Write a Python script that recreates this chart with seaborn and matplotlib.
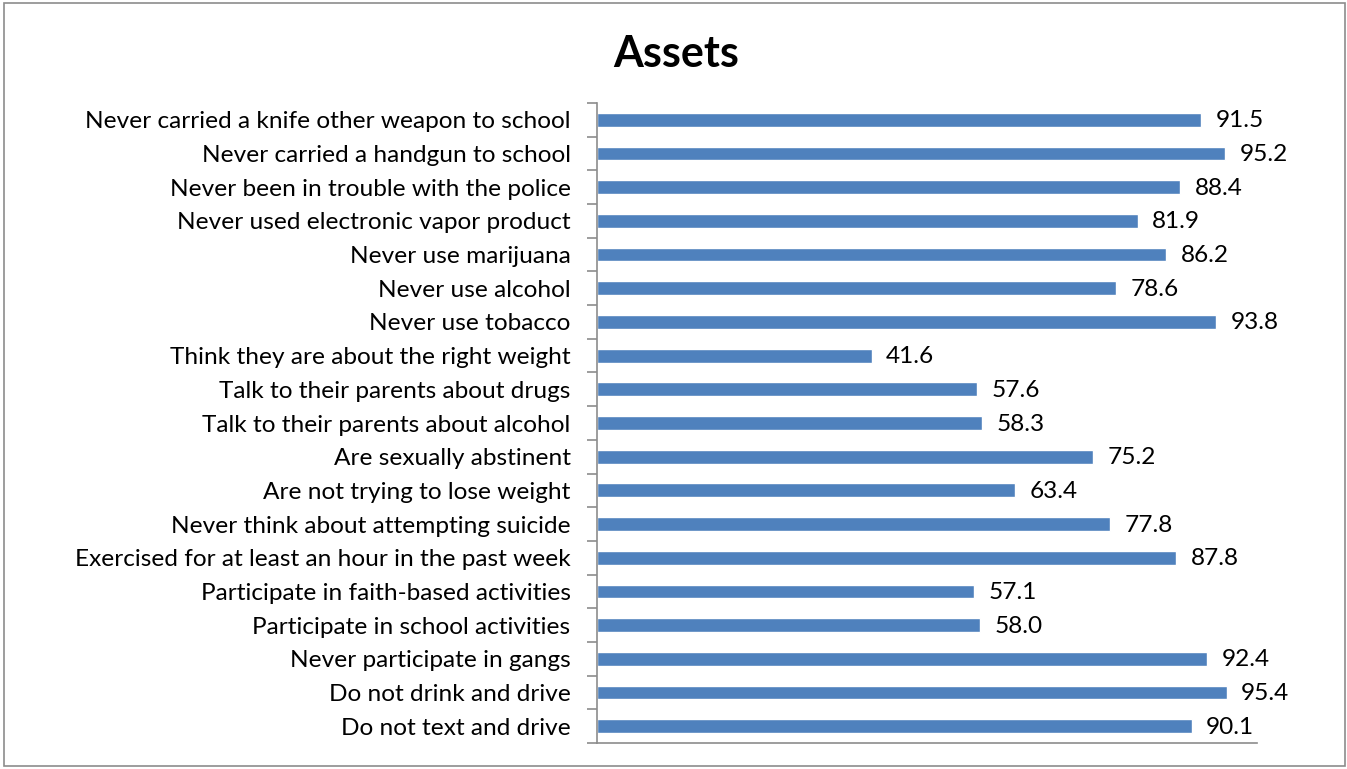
import matplotlib
matplotlib.use("Agg")
import matplotlib.pyplot as plt
import seaborn as sns
import pandas as pd
import numpy as np
from matplotlib.patches import Rectangle

categories = [
    "Never carried a knife other weapon to school",
    "Never carried a handgun to school",
    "Never been in trouble with the police",
    "Never used electronic vapor product",
    "Never use marijuana",
    "Never use alcohol",
    "Never use tobacco",
    "Think they are about the right weight",
    "Talk to their parents about drugs",
    "Talk to their parents about alcohol",
    "Are sexually abstinent",
    "Are not trying to lose weight",
    "Never think about attempting suicide",
    "Exercised for at least an hour in the past week",
    "Participate in faith-based activities",
    "Participate in school activities",
    "Never participate in gangs",
    "Do not drink and drive",
    "Do not text and drive",
]
values = [91.5, 95.2, 88.4, 81.9, 86.2, 78.6, 93.8, 41.6, 57.6, 58.3,
          75.2, 63.4, 77.8, 87.8, 57.1, 58.0, 92.4, 95.4, 90.1]

df = pd.DataFrame({"category": categories, "value": values})

sns.set_theme(style="white")
plt.rcParams["font.family"] = ["Lato", "DejaVu Sans"]

W, H = 1347, 769
fig = plt.figure(figsize=(W / 100, H / 100), dpi=100)
ax = fig.add_axes([597 / W, 1 - 743 / H, (1257 - 597) / W, (743 - 103) / H])

sns.barplot(data=df, x="value", y="category", orient="h", color="#4F81BD",
            saturation=1, width=0.41, ax=ax)

ax.set_xlim(0, 100)
ax.set_ylim(len(categories) - 0.5, -0.5)
ax.set_xlabel("")
ax.set_ylabel("")
ax.set_xticks([])

for s in ["top", "right"]:
    ax.spines[s].set_visible(False)
for s in ["left", "bottom"]:
    ax.spines[s].set_color("#8C8C8C")
    ax.spines[s].set_linewidth(1.2)

ax.set_yticks(range(len(categories)))
ax.set_yticklabels(categories, fontsize=17.6, color="#000000")
ax.tick_params(axis="y", which="major", length=0, pad=19)
ax.set_yticks(np.arange(-0.5, len(categories), 1.0), minor=True)
ax.tick_params(axis="y", which="minor", length=7, width=1.2, color="#8C8C8C", left=True)

for i, v in enumerate(values):
    ax.text(v + 2.2, i + 0.03, f"{v:.1f}", va="center", ha="left", fontsize=17.6, color="#000000")

fig.text(676 / W, 1 - 54 / H, "Assets", ha="center", va="center",
         fontsize=31, fontweight="bold", color="#000000")

fig.patches.append(Rectangle((4 / W, 3 / H), (1345 - 4) / W, (766 - 3) / H,
                             transform=fig.transFigure, fill=False,
                             edgecolor="#8C8C8C", linewidth=1.2))

fig.savefig("out.png", dpi=100, facecolor="white")
